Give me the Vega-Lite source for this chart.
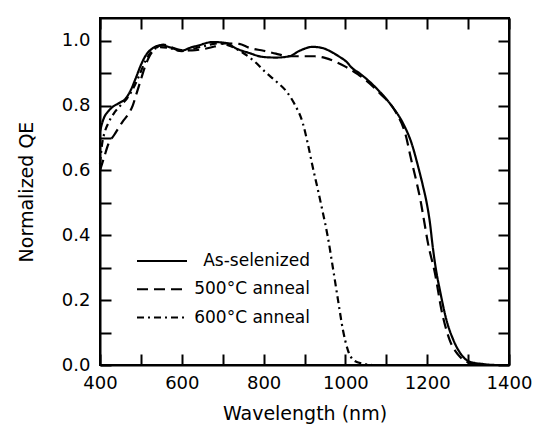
{
  "$schema": "https://vega.github.io/schema/vega-lite/v6.json",
  "width": 409,
  "height": 347,
  "autosize": {"type": "none"},
  "padding": {"left": 100, "top": 18, "right": 26, "bottom": 64},
  "background": "white",
  "config": {
    "font": "DejaVu Sans",
    "view": {"stroke": "black", "strokeWidth": 2},
    "axis": {
      "grid": false,
      "domainColor": "black",
      "domainWidth": 2,
      "tickColor": "black",
      "tickWidth": 2,
      "tickSize": -11,
      "labelColor": "black",
      "labelFont": "DejaVu Sans",
      "labelFontSize": 18,
      "titleFont": "DejaVu Sans",
      "titleFontSize": 19,
      "titleFontWeight": "normal",
      "titleColor": "black"
    }
  },
  "data": {
    "values": [
      {"s": "As-selenized", "w": 400, "qe": 0.72},
      {"s": "As-selenized", "w": 405, "qe": 0.745},
      {"s": "As-selenized", "w": 410, "qe": 0.763},
      {"s": "As-selenized", "w": 420, "qe": 0.782},
      {"s": "As-selenized", "w": 430, "qe": 0.795},
      {"s": "As-selenized", "w": 447, "qe": 0.808},
      {"s": "As-selenized", "w": 463, "qe": 0.822},
      {"s": "As-selenized", "w": 475, "qe": 0.847},
      {"s": "As-selenized", "w": 487, "qe": 0.883},
      {"s": "As-selenized", "w": 500, "qe": 0.925},
      {"s": "As-selenized", "w": 512, "qe": 0.955},
      {"s": "As-selenized", "w": 528, "qe": 0.976},
      {"s": "As-selenized", "w": 549, "qe": 0.986},
      {"s": "As-selenized", "w": 573, "qe": 0.979},
      {"s": "As-selenized", "w": 598, "qe": 0.969},
      {"s": "As-selenized", "w": 622, "qe": 0.979},
      {"s": "As-selenized", "w": 643, "qe": 0.986},
      {"s": "As-selenized", "w": 660, "qe": 0.993},
      {"s": "As-selenized", "w": 675, "qe": 0.996},
      {"s": "As-selenized", "w": 708, "qe": 0.993},
      {"s": "As-selenized", "w": 733, "qe": 0.976},
      {"s": "As-selenized", "w": 765, "qe": 0.962},
      {"s": "As-selenized", "w": 798, "qe": 0.95},
      {"s": "As-selenized", "w": 831, "qe": 0.948},
      {"s": "As-selenized", "w": 863, "qe": 0.952},
      {"s": "As-selenized", "w": 888, "qe": 0.969},
      {"s": "As-selenized", "w": 920, "qe": 0.981},
      {"s": "As-selenized", "w": 945, "qe": 0.977},
      {"s": "As-selenized", "w": 965, "qe": 0.966},
      {"s": "As-selenized", "w": 986, "qe": 0.95},
      {"s": "As-selenized", "w": 1000, "qe": 0.938},
      {"s": "As-selenized", "w": 1018, "qe": 0.914},
      {"s": "As-selenized", "w": 1035, "qe": 0.899},
      {"s": "As-selenized", "w": 1076, "qe": 0.853},
      {"s": "As-selenized", "w": 1112, "qe": 0.801},
      {"s": "As-selenized", "w": 1141, "qe": 0.745},
      {"s": "As-selenized", "w": 1162, "qe": 0.683},
      {"s": "As-selenized", "w": 1178, "qe": 0.611},
      {"s": "As-selenized", "w": 1190, "qe": 0.55},
      {"s": "As-selenized", "w": 1198, "qe": 0.505},
      {"s": "As-selenized", "w": 1206, "qe": 0.445},
      {"s": "As-selenized", "w": 1214, "qe": 0.36},
      {"s": "As-selenized", "w": 1222, "qe": 0.29},
      {"s": "As-selenized", "w": 1231, "qe": 0.231},
      {"s": "As-selenized", "w": 1247, "qe": 0.139},
      {"s": "As-selenized", "w": 1264, "qe": 0.077},
      {"s": "As-selenized", "w": 1284, "qe": 0.031},
      {"s": "As-selenized", "w": 1304, "qe": 0.01},
      {"s": "As-selenized", "w": 1337, "qe": 0.003},
      {"s": "As-selenized", "w": 1370, "qe": 0},
      {"s": "As-selenized", "w": 1400, "qe": 0},
      {"s": "500°C anneal", "w": 400, "qe": 0.6},
      {"s": "500°C anneal", "w": 410, "qe": 0.64},
      {"s": "500°C anneal", "w": 420, "qe": 0.68},
      {"s": "500°C anneal", "w": 435, "qe": 0.71},
      {"s": "500°C anneal", "w": 455, "qe": 0.75},
      {"s": "500°C anneal", "w": 470, "qe": 0.775},
      {"s": "500°C anneal", "w": 480, "qe": 0.8},
      {"s": "500°C anneal", "w": 490, "qe": 0.84},
      {"s": "500°C anneal", "w": 500, "qe": 0.88},
      {"s": "500°C anneal", "w": 510, "qe": 0.92},
      {"s": "500°C anneal", "w": 520, "qe": 0.95},
      {"s": "500°C anneal", "w": 535, "qe": 0.975},
      {"s": "500°C anneal", "w": 555, "qe": 0.988},
      {"s": "500°C anneal", "w": 575, "qe": 0.98},
      {"s": "500°C anneal", "w": 595, "qe": 0.972},
      {"s": "500°C anneal", "w": 625, "qe": 0.97},
      {"s": "500°C anneal", "w": 652, "qe": 0.974},
      {"s": "500°C anneal", "w": 680, "qe": 0.982},
      {"s": "500°C anneal", "w": 705, "qe": 0.992},
      {"s": "500°C anneal", "w": 740, "qe": 0.99},
      {"s": "500°C anneal", "w": 765, "qe": 0.978},
      {"s": "500°C anneal", "w": 800, "qe": 0.969},
      {"s": "500°C anneal", "w": 830, "qe": 0.96},
      {"s": "500°C anneal", "w": 860, "qe": 0.952},
      {"s": "500°C anneal", "w": 900, "qe": 0.952},
      {"s": "500°C anneal", "w": 925, "qe": 0.952},
      {"s": "500°C anneal", "w": 950, "qe": 0.947},
      {"s": "500°C anneal", "w": 976, "qe": 0.935},
      {"s": "500°C anneal", "w": 1000, "qe": 0.92},
      {"s": "500°C anneal", "w": 1030, "qe": 0.897},
      {"s": "500°C anneal", "w": 1084, "qe": 0.838},
      {"s": "500°C anneal", "w": 1123, "qe": 0.78},
      {"s": "500°C anneal", "w": 1148, "qe": 0.706},
      {"s": "500°C anneal", "w": 1160, "qe": 0.638},
      {"s": "500°C anneal", "w": 1174, "qe": 0.564},
      {"s": "500°C anneal", "w": 1184, "qe": 0.505},
      {"s": "500°C anneal", "w": 1193, "qe": 0.44},
      {"s": "500°C anneal", "w": 1202, "qe": 0.375},
      {"s": "500°C anneal", "w": 1219, "qe": 0.283},
      {"s": "500°C anneal", "w": 1235, "qe": 0.169},
      {"s": "500°C anneal", "w": 1255, "qe": 0.077},
      {"s": "500°C anneal", "w": 1276, "qe": 0.031},
      {"s": "500°C anneal", "w": 1300, "qe": 0.008},
      {"s": "500°C anneal", "w": 1340, "qe": 0},
      {"s": "500°C anneal", "w": 1400, "qe": 0},
      {"s": "600°C anneal", "w": 400, "qe": 0.62},
      {"s": "600°C anneal", "w": 405, "qe": 0.68},
      {"s": "600°C anneal", "w": 412, "qe": 0.72},
      {"s": "600°C anneal", "w": 420, "qe": 0.745},
      {"s": "600°C anneal", "w": 434, "qe": 0.776},
      {"s": "600°C anneal", "w": 450, "qe": 0.8},
      {"s": "600°C anneal", "w": 465, "qe": 0.82},
      {"s": "600°C anneal", "w": 480, "qe": 0.85},
      {"s": "600°C anneal", "w": 495, "qe": 0.89},
      {"s": "600°C anneal", "w": 510, "qe": 0.935},
      {"s": "600°C anneal", "w": 525, "qe": 0.965},
      {"s": "600°C anneal", "w": 545, "qe": 0.98},
      {"s": "600°C anneal", "w": 570, "qe": 0.977},
      {"s": "600°C anneal", "w": 600, "qe": 0.968},
      {"s": "600°C anneal", "w": 650, "qe": 0.982},
      {"s": "600°C anneal", "w": 690, "qe": 0.992},
      {"s": "600°C anneal", "w": 720, "qe": 0.983},
      {"s": "600°C anneal", "w": 750, "qe": 0.962},
      {"s": "600°C anneal", "w": 777, "qe": 0.937},
      {"s": "600°C anneal", "w": 802, "qe": 0.906},
      {"s": "600°C anneal", "w": 831, "qe": 0.874},
      {"s": "600°C anneal", "w": 855, "qe": 0.845},
      {"s": "600°C anneal", "w": 875, "qe": 0.806},
      {"s": "600°C anneal", "w": 896, "qe": 0.745},
      {"s": "600°C anneal", "w": 908, "qe": 0.683},
      {"s": "600°C anneal", "w": 920, "qe": 0.611},
      {"s": "600°C anneal", "w": 933, "qe": 0.539},
      {"s": "600°C anneal", "w": 944, "qe": 0.475},
      {"s": "600°C anneal", "w": 957, "qe": 0.395},
      {"s": "600°C anneal", "w": 969, "qe": 0.303},
      {"s": "600°C anneal", "w": 982, "qe": 0.2},
      {"s": "600°C anneal", "w": 994, "qe": 0.108},
      {"s": "600°C anneal", "w": 1006, "qe": 0.046},
      {"s": "600°C anneal", "w": 1022, "qe": 0.013},
      {"s": "600°C anneal", "w": 1043, "qe": 0.004},
      {"s": "600°C anneal", "w": 1065, "qe": 0}
    ]
  },
  "layer": [
    {
      "mark": {"type": "line", "color": "black", "strokeWidth": 2.2, "interpolate": "monotone"},
      "encoding": {
        "x": {
          "field": "w", "type": "quantitative",
          "scale": {"domain": [400, 1400], "nice": false},
          "axis": {
            "orient": "bottom",
            "title": "Wavelength (nm)",
            "values": [400, 500, 600, 700, 800, 900, 1000, 1100, 1200, 1300, 1400],
            "format": "d",
            "labelExpr": "datum.value % 200 == 0 ? datum.label : ''",
            "labelFlush": false,
            "labelPadding": 20,
            "titlePadding": 12
          }
        },
        "y": {
          "field": "qe", "type": "quantitative",
          "scale": {"domain": [0, 1.07], "nice": false},
          "axis": {
            "orient": "left",
            "title": "Normalized QE",
            "values": [0, 0.1, 0.2, 0.3, 0.4, 0.5, 0.6, 0.7, 0.8, 0.9, 1.0],
            "format": ".1f",
            "labelExpr": "round(datum.value * 10) % 2 == 0 ? datum.label : ''",
            "labelFlush": false,
            "labelPadding": 21,
            "titlePadding": 25
          }
        },
        "strokeDash": {
          "field": "s", "type": "nominal",
          "scale": {
            "domain": ["As-selenized", "500°C anneal", "600°C anneal"],
            "range": [[1, 0], [11, 6], [7, 4, 2, 4]]
          },
          "legend": {
            "title": null,
            "orient": "none",
            "legendX": 36,
            "legendY": 233,
            "padding": 0,
            "symbolType": "stroke",
            "symbolSize": 2500,
            "symbolStrokeWidth": 2,
            "symbolStrokeColor": "black",
            "clipHeight": 20,
            "rowPadding": 8.3,
            "labelFont": "DejaVu Sans",
            "labelFontSize": 17,
            "labelColor": "black",
            "labelAlign": "right",
            "labelOffset": 122
          }
        }
      }
    },
    {
      "mark": {"type": "point", "opacity": 0},
      "encoding": {
        "x": {
          "field": "w", "type": "quantitative",
          "axis": {
            "orient": "top", "title": null, "labels": false,
            "values": [400, 500, 600, 700, 800, 900, 1000, 1100, 1200, 1300, 1400]
          }
        },
        "y": {
          "field": "qe", "type": "quantitative",
          "axis": {
            "orient": "right", "title": null, "labels": false,
            "values": [0, 0.1, 0.2, 0.3, 0.4, 0.5, 0.6, 0.7, 0.8, 0.9, 1.0]
          }
        }
      }
    }
  ],
  "resolve": {"axis": {"x": "independent", "y": "independent"}}
}
